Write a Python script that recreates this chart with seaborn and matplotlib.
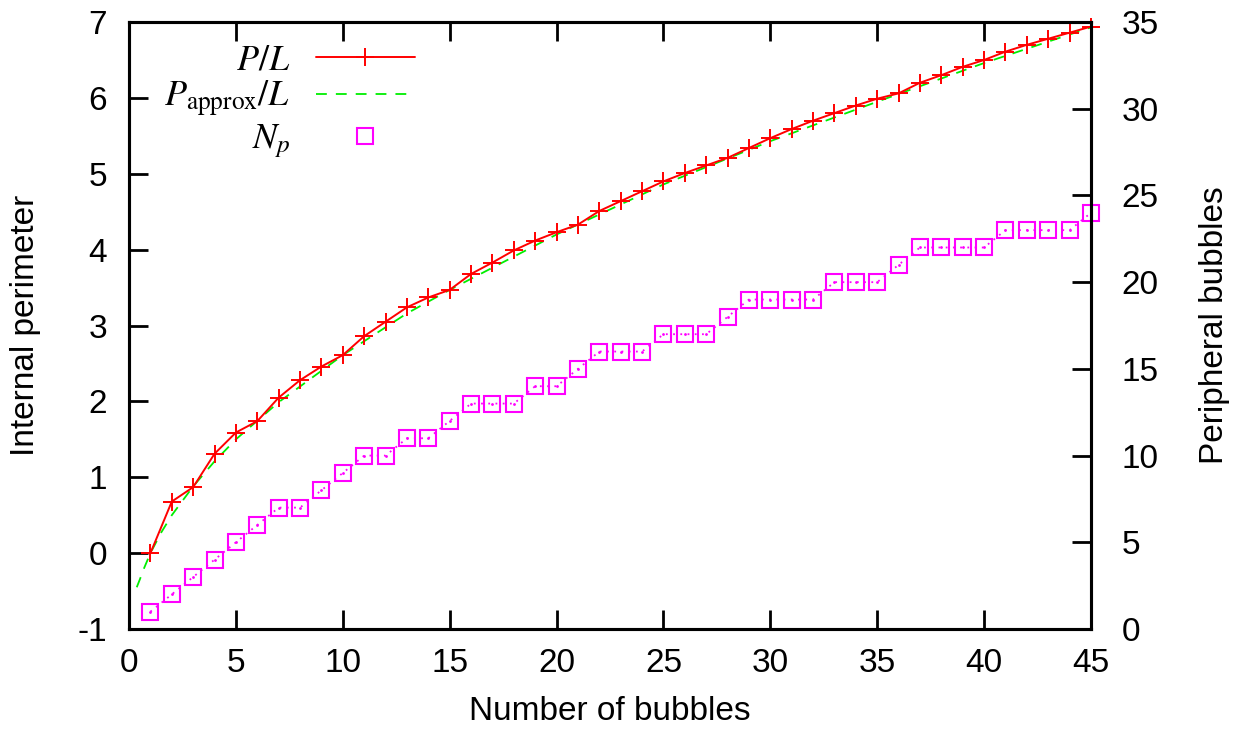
import numpy as np
import pandas as pd
import seaborn as sns
import matplotlib
matplotlib.use("Agg")
import matplotlib.pyplot as plt
from matplotlib.lines import Line2D

# data
n_bubbles = list(range(1, 46))
p_over_l = [0.00, 0.68, 0.87, 1.31, 1.59, 1.74, 2.05, 2.28, 2.46, 2.61,
            2.86, 3.05, 3.24, 3.37, 3.47, 3.68, 3.83, 3.99, 4.12, 4.23,
            4.33, 4.51, 4.64, 4.77, 4.90, 5.01, 5.11, 5.21, 5.34, 5.47,
            5.59, 5.70, 5.80, 5.90, 5.99, 6.06, 6.20, 6.30, 6.41, 6.50,
            6.61, 6.70, 6.78, 6.86, 6.94]
approx_x = [0.36, 0.5, 0.7, 1.0, 1.5, 2, 3, 4, 5, 7, 10, 13, 15, 20, 25, 30, 35, 40, 45]
approx_y = [-0.45, -0.35, -0.20, 0.00, 0.27, 0.50, 0.88, 1.21, 1.50, 1.99, 2.61,
            3.16, 3.47, 4.20, 4.86, 5.43, 5.95, 6.46, 6.93]
n_peripheral = [1, 2, 3, 4, 5, 6, 7, 7, 8, 9, 10, 10, 11, 11, 12, 13, 13, 13, 14, 14,
                15, 16, 16, 16, 17, 17, 17, 18, 19, 19, 19, 19, 20, 20, 20, 21, 22, 22,
                22, 22, 23, 23, 23, 23, 24]

df = pd.DataFrame({"n": n_bubbles, "p": p_over_l, "np": n_peripheral})
df_approx = pd.DataFrame({"x": approx_x, "y": approx_y})

sns.set_style("ticks")
plt.rcParams["font.family"] = ["Liberation Sans", "DejaVu Sans"]
plt.rcParams["mathtext.fontset"] = "stix"
plt.rcParams["axes.unicode_minus"] = False
for k in ["text.color", "axes.labelcolor", "xtick.color", "ytick.color", "axes.edgecolor"]:
    plt.rcParams[k] = "black"

fs = 24
fig = plt.figure(figsize=(12.42, 7.35), dpi=100)
ax = fig.add_axes([0.1039, 0.1442, 0.8784 - 0.1039, 0.970 - 0.1442])
ax2 = ax.twinx()

red, green, mag = "#ff0000", "#00ee00", "#ff00ff"

sns.lineplot(data=df_approx, x="x", y="y", ax=ax, color=green, lw=1.3,
             linestyle=(0, (6, 5)), zorder=2)
sns.lineplot(data=df, x="n", y="p", ax=ax, color=red, lw=1.4, marker="+",
             markersize=13, markeredgewidth=1.4, markeredgecolor=red, zorder=3,
             clip_on=False)

# N_p on the right axis: dotted line, open squares with a centre dot
sns.lineplot(data=df, x="n", y="np", ax=ax2, color=mag, lw=1.3, linestyle=(0, (1, 3)))
ax2.plot(df["n"], df["np"], ls="none", marker="s", markersize=12,
         markerfacecolor="none", markeredgecolor=mag, markeredgewidth=1.5,
         clip_on=False)
ax2.plot(df["n"], df["np"], ls="none", marker=".", markersize=2, color=mag,
         clip_on=False)

ax.set_xlim(0, 45)
ax.set_ylim(-1, 7)
ax2.set_ylim(0, 35)
ax.set_xticks(range(0, 46, 5))
ax.set_yticks(range(-1, 8))
ax2.set_yticks(range(0, 36, 5))

ax.set_xlabel("Number of bubbles", fontsize=fs, labelpad=12)
ax.set_ylabel("Internal perimeter", fontsize=fs, labelpad=26)
ax2.set_ylabel("Peripheral bubbles", fontsize=fs, labelpad=29)

ax.tick_params(axis="x", direction="in", length=14, width=2, labelsize=fs,
               top=True, pad=14)
ax.tick_params(axis="y", direction="in", length=14, width=2, labelsize=fs,
               right=False, pad=16)
ax2.tick_params(axis="y", direction="in", length=14, width=2, labelsize=fs, pad=22)
for a in (ax, ax2):
    for s in a.spines.values():
        s.set_visible(True)
        s.set_linewidth(2.2)
        s.set_color("black")

handles = [
    Line2D([], [], color=red, lw=1.4, marker="+", markersize=13, markeredgewidth=1.4),
    Line2D([], [], color=green, lw=1.3, linestyle=(0, (6, 5))),
    Line2D([], [], ls="none", marker="s", markersize=12, markerfacecolor="none",
           markeredgecolor=mag, markeredgewidth=1.5),
]
labels = [r"$P/L$", r"$P_{\mathrm{approx}}/L$", r"$N_p$"]
ax.legend(handles, labels, loc="upper right", bbox_to_anchor=(0.331, 1.02),
          frameon=False, markerfirst=False, fontsize=26, handlelength=2.75,
          handletextpad=0.7, labelspacing=0.05)

fig.savefig("out.png", dpi=100)
